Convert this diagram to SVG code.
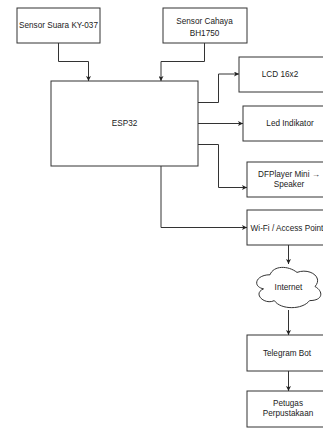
<svg xmlns="http://www.w3.org/2000/svg" width="323" height="430" viewBox="0 0 323 430">
<defs>
<style>
.box{fill:#fff;stroke:#333;stroke-width:1}
.lbl{font-family:"Liberation Sans",Arial,sans-serif;font-size:8.2px;fill:#222;text-anchor:middle}
.edge{fill:none;stroke:#333;stroke-width:1}
</style>
<marker id="arr" viewBox="0 0 10 10" refX="10" refY="5" markerWidth="5" markerHeight="5" orient="auto" markerUnits="userSpaceOnUse">
<path d="M0,0 L10,5 L0,10 L2.5,5 Z" fill="#222"/>
</marker>
</defs>
<rect width="323" height="430" fill="#fff"/>
<g id="connectors">
<path class="edge" d="M58.5 43 V61.5 H88.5 V81" marker-end="url(#arr)"/>
<path class="edge" d="M204.5 43 V61.5 H161 V81" marker-end="url(#arr)"/>
<path class="edge" d="M198 102.5 H218.5 V74 H239" marker-end="url(#arr)"/>
<path class="edge" d="M198 123.5 H243" marker-end="url(#arr)"/>
<path class="edge" d="M198 144.5 H218.5 V187.5 H247" marker-end="url(#arr)"/>
<path class="edge" d="M161 166 V227.5 H247" marker-end="url(#arr)"/>
<path class="edge" d="M288.5 245 V264" marker-end="url(#arr)"/>
<path class="edge" d="M288.5 310 V335" marker-end="url(#arr)"/>
<path class="edge" d="M288.5 371 V391" marker-end="url(#arr)"/>
</g>
<g id="sensor-suara">
<rect class="box" x="17" y="8" width="83" height="35"/>
<text class="lbl" x="58.5" y="28">Sensor Suara KY-037</text>
</g>
<g id="sensor-cahaya">
<rect class="box" x="163" y="8" width="84" height="35"/>
<text class="lbl" x="204.5" y="23.7">Sensor Cahaya</text>
<text class="lbl" x="204.5" y="36.3">BH1750</text>
</g>
<g id="esp32">
<rect class="box" x="51" y="81" width="147" height="85"/>
<text class="lbl" x="124.5" y="126.3">ESP32</text>
</g>
<g id="lcd">
<rect class="box" x="239" y="57" width="90" height="35"/>
<text class="lbl" x="280" y="77">LCD 16x2</text>
</g>
<g id="led">
<rect class="box" x="243" y="106" width="95" height="35"/>
<text class="lbl" x="290" y="126">Led Indikator</text>
</g>
<g id="dfplayer">
<rect class="box" x="247" y="162" width="85" height="35"/>
<text class="lbl" x="289" y="177">DFPlayer Mini →</text>
<text class="lbl" x="289" y="187.3">Speaker</text>
</g>
<g id="wifi">
<rect class="box" x="247" y="210" width="83" height="35"/>
<text class="lbl" x="287" y="230.7">Wi-Fi / Access Point</text>
</g>
<g id="internet">
<path class="box" d="M270 274.75 C255.6 274.75 252 286.5 263.5 288.85 C252 294 265 305.3 274.3 300.6 C280.8 310 302.4 310 309.6 300.6 C323.5 300.6 323.5 291.2 315 286.5 C323.5 277.1 309.6 267.7 297 272.4 C288 265.35 273.6 265.35 270 274.75 Z"/>
<text class="lbl" x="288.5" y="289.7">Internet</text>
</g>
<g id="telegram">
<rect class="box" x="247" y="335" width="83" height="36"/>
<text class="lbl" x="287" y="356.3">Telegram Bot</text>
</g>
<g id="petugas">
<rect class="box" x="247" y="391" width="83" height="36"/>
<text class="lbl" x="288" y="406.3">Petugas</text>
<text class="lbl" x="288" y="416.3">Perpustakaan</text>
</g>
</svg>
